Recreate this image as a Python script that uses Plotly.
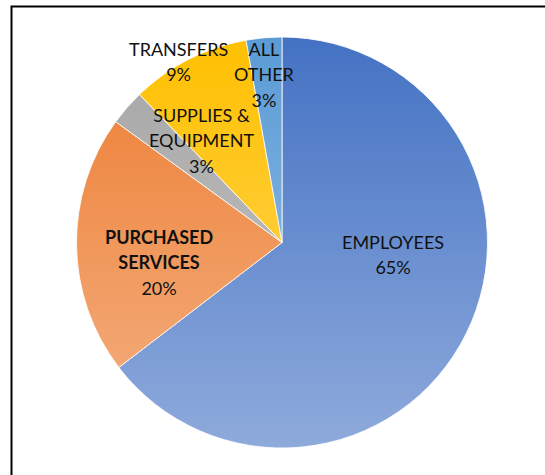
import base64
import numpy as np
import plotly.graph_objects as go

# ---- data ----
categories = ["EMPLOYEES", "PURCHASED SERVICES", "SUPPLIES & EQUIPMENT", "TRANSFERS", "ALL OTHER"]
values = [64.6, 20.4, 2.8, 9.4, 2.8]
label_lines = [["EMPLOYEES"], ["PURCHASED", "SERVICES"], ["SUPPLIES &amp;", "EQUIPMENT"], ["TRANSFERS"], ["ALL", "OTHER"]]

# ---- style ----
colors = ["#4472C4", "#ED7D31", "#A5A5A5", "#FFC000", "#5B9BD5"]
bold_name = [False, True, False, False, False]
label_angle_shift = [-20.1, -8.5, 10.9, -2.8, -0.9]   # degrees from slice mid-angle
label_radius = [0.543, 0.606, 0.633, 1.013, 0.824]    # fraction of pie radius
FONT = "Lato"
FONT_SIZE = 18          # glyph size
LINE_EM = 19.5          # sets line pitch (plotly uses 1.3 em)

W, H = 545, 475
ML, MR, MT, MB = 40, 21, 37, 27
plot_w = W - ML - MR
plot_h = H - MT - MB
R = min(plot_w, plot_h) / 2.0

fig = go.Figure(go.Pie(
    labels=categories,
    values=values,
    sort=False,
    direction="clockwise",
    rotation=0,
    marker=dict(colors=colors, line=dict(color="rgba(255,255,255,0.8)", width=1)),
    textinfo="none",
    hoverinfo="label+percent",
    showlegend=False,
))

# labels computed from slice angles
vals = np.array(values, dtype=float)
total = vals.sum()
cum = np.concatenate([[0], np.cumsum(vals)])
annotations = []
for i, name in enumerate(categories):
    mid = (cum[i] + cum[i + 1]) / 2 / total * 360.0 + label_angle_shift[i]
    th = np.deg2rad(mid)
    r = label_radius[i] * R
    x = 0.5 + r * np.sin(th) / plot_w
    y = 0.5 + r * np.cos(th) / plot_h
    pct = f"{vals[i] / total * 100:.0f}%"
    lines = []
    for ln in label_lines[i]:
        t = f"<b>{ln}</b>" if bold_name[i] else ln
        lines.append(f'<span style="font-size:{FONT_SIZE}px">{t}</span>')
    lines.append(f'<span style="font-size:{FONT_SIZE}px">{pct}</span>')
    annotations.append(dict(
        x=x, y=y, xref="paper", yref="paper", text="<br>".join(lines),
        showarrow=False, xanchor="center", yanchor="middle", align="center",
        font=dict(family=FONT, size=LINE_EM, color="#111111"),
    ))

# gradient sheen (lighter toward the bottom), like Office gradient fills
svg = ('<svg xmlns="http://www.w3.org/2000/svg" width="100" height="100" viewBox="0 0 100 100" '
       'preserveAspectRatio="none"><defs><linearGradient id="g" x1="0" y1="0" x2="0" y2="1">'
       '<stop offset="0" stop-color="#ffffff" stop-opacity="0"/>'
       '<stop offset="1" stop-color="#ffffff" stop-opacity="0.4"/></linearGradient></defs>'
       '<rect x="0" y="0" width="100" height="100" fill="url(#g)"/></svg>')
src = "data:image/svg+xml;base64," + base64.b64encode(svg.encode()).decode()

# chart frame (left/top edges visible, rest beyond the window)
frame_left_px, frame_top_px = 11.5, 6.5
fx0 = (frame_left_px - ML) / plot_w
fy1 = (H - MB - frame_top_px) / plot_h

fig.update_layout(
    width=W, height=H,
    margin=dict(l=ML, r=MR, t=MT, b=MB),
    paper_bgcolor="white", plot_bgcolor="white",
    annotations=annotations,
    images=[dict(source=src, xref="paper", yref="paper", x=0, y=1, sizex=1, sizey=1,
                 xanchor="left", yanchor="top", sizing="stretch", layer="above")],
    shapes=[dict(type="rect", xref="paper", yref="paper", x0=fx0, y0=-0.3, x1=1.3, y1=fy1,
                 line=dict(color="black", width=2), fillcolor="rgba(0,0,0,0)")],
)

fig.write_html("out.html")
